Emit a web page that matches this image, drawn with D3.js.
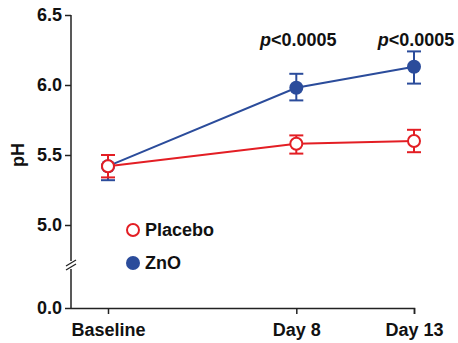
<!DOCTYPE html>
<html>
<head>
<meta charset="utf-8">
<script src="https://cdn.jsdelivr.net/npm/d3@7"></script>
<style>
body { margin: 0; background: #fff; }
text { font-family: "Liberation Sans", Arial, sans-serif; font-weight: bold; }
</style>
</head>
<body>
<div id="chart-area"></div>
<script>
var days = [0, 8, 13];
var dayLabels = ["Baseline", "Day 8", "Day 13"];
var placebo = [5.42, 5.58, 5.60];
var placeboLo = [5.34, 5.51, 5.52];
var placeboHi = [5.50, 5.64, 5.68];
var zno = [5.42, 5.98, 6.13];
var znoLo = [5.32, 5.89, 6.01];
var znoHi = [5.50, 6.08, 6.24];
var yTicks = [0, 5.0, 5.5, 6.0, 6.5];
var pLabels = ["", "p<0.0005", "p<0.0005"];

var width = 458, height = 343;
var red = "#e31e24", blue = "#2b4c9b";

var svg = d3.select("#chart-area").append("svg")
    .attr("width", width).attr("height", height);

var x = d3.scaleLinear().domain([0, 13]).range([108, 414]);
// broken axis: 0 at bottom, then 5.0 – 6.5
var y = d3.scaleLinear().domain([0, 4.7, 6.5]).range([308, 267, 15]);

var xAxis = svg.append("g")
    .attr("transform", "translate(0,308)")
    .call(d3.axisBottom(x).tickValues(days).tickSize(6).tickFormat((d, i) => dayLabels[i]));
xAxis.select(".domain").attr("d", "M71,0.5H414.5V6");
var yAxis = svg.append("g")
    .attr("transform", "translate(71,0)")
    .call(d3.axisLeft(y).tickValues(yTicks).tickSize(6).tickFormat(d3.format(".1f")));
yAxis.select(".domain").attr("d", "M0,15V308");

svg.selectAll(".domain, .tick line").attr("stroke", "#222").attr("stroke-width", 1.5);
xAxis.selectAll("text").attr("font-size", "18px").attr("y", 11).attr("dy", "0.95em").attr("fill", "#111");
yAxis.selectAll("text").attr("font-size", "18px").attr("x", -9).attr("fill", "#111");

// break marks
var yb = 265;
svg.append("rect").attr("x", 66).attr("y", yb - 4).attr("width", 10).attr("height", 8).attr("fill", "#fff");
[-2, 2].forEach(function(o) {
    svg.append("line")
        .attr("x1", 66).attr("y1", yb + o + 3)
        .attr("x2", 76).attr("y2", yb + o - 3)
        .attr("stroke", "#222").attr("stroke-width", 1.2);
});

svg.append("text")
    .attr("transform", "translate(24," + y(5.5) + ") rotate(-90)")
    .attr("text-anchor", "middle").attr("font-size", "18px").attr("fill", "#111")
    .text("pH");

function drawSeries(vals, lo, hi, color, filled) {
    var line = d3.line().x((d, i) => x(days[i])).y(d => y(d));
    svg.append("path").datum(vals).attr("d", line)
        .attr("fill", "none").attr("stroke", color).attr("stroke-width", 2);
    var g = svg.append("g").selectAll("g").data(vals).enter().append("g");
    g.append("line")
        .attr("x1", (d, i) => x(days[i])).attr("x2", (d, i) => x(days[i]))
        .attr("y1", (d, i) => y(lo[i])).attr("y2", (d, i) => y(hi[i]))
        .attr("stroke", color).attr("stroke-width", 2);
    [lo, hi].forEach(function(arr) {
        g.append("line")
            .attr("x1", (d, i) => x(days[i]) - 7).attr("x2", (d, i) => x(days[i]) + 7)
            .attr("y1", (d, i) => y(arr[i])).attr("y2", (d, i) => y(arr[i]))
            .attr("stroke", color).attr("stroke-width", 2);
    });
    g.append("circle")
        .attr("cx", (d, i) => x(days[i])).attr("cy", d => y(d))
        .attr("r", filled ? 7 : 6)
        .attr("fill", filled ? color : "#fff")
        .attr("stroke", color).attr("stroke-width", filled ? 0 : 2);
}

// ZnO baseline bar drawn under placebo, as in the figure
drawSeries(zno, znoLo, znoHi, blue, true);
drawSeries(placebo, placeboLo, placeboHi, red, false);

// p-values
svg.selectAll(".pval").data(pLabels.filter(d => d)).enter().append("text")
    .attr("class", "pval")
    .attr("x", (d, i) => x(days[i + 1]) + 2).attr("y", 46)
    .attr("text-anchor", "middle").attr("font-size", "18px").attr("fill", "#111")
    .html(d => '<tspan font-style="italic">p</tspan>' + d.slice(1));

// legend
var legend = [{name: "Placebo", color: red, filled: false}, {name: "ZnO", color: blue, filled: true}];
var lg = svg.selectAll(".lg").data(legend).enter().append("g")
    .attr("transform", (d, i) => "translate(133," + (230 + i * 33) + ")");
lg.append("circle").attr("r", d => d.filled ? 7 : 6)
    .attr("fill", d => d.filled ? d.color : "#fff")
    .attr("stroke", d => d.color).attr("stroke-width", d => d.filled ? 0 : 2);
lg.append("text").attr("x", 12).attr("dy", "0.36em")
    .attr("font-size", "18px").attr("fill", "#111").text(d => d.name);
</script>
</body>
</html>
